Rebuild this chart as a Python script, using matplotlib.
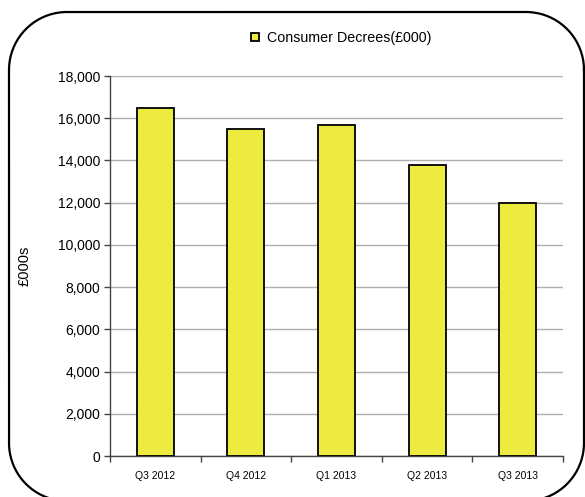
import matplotlib
matplotlib.use("Agg")
import matplotlib.pyplot as plt
from matplotlib.ticker import FuncFormatter, FixedLocator
import numpy as np

plt.rcParams['font.family'] = ['Liberation Sans', 'DejaVu Sans']

quarters = ['Q3 2012', 'Q4 2012', 'Q1 2013', 'Q2 2013', 'Q3 2013']
decrees = [16500, 15500, 15700, 13800, 12000]
series_name = 'Consumer Decrees(£000)'

W, H = 585, 497
fig = plt.figure(figsize=(W/100, H/100), dpi=100)

# rounded frame round the whole chart, in pixel units (runs off the bottom edge)
bg = fig.add_axes([0, 0, 1, 1])
bg.set_xlim(0, W)
bg.set_ylim(0, H)
bg.axis('off')
x0, x1, y0, y1, r = 9, 584, -4, 485, 58
corners = [(x1 - r, y1 - r, 0), (x0 + r, y1 - r, 90),
           (x0 + r, y0 + r, 180), (x1 - r, y0 + r, 270)]
fx, fy = [], []
for cx, cy, a0 in corners:
    a = np.radians(np.linspace(a0, a0 + 90, 40))
    fx.extend(cx + r*np.cos(a))
    fy.extend(cy + r*np.sin(a))
fx.append(fx[0])
fy.append(fy[0])
bg.plot(fx, fy, color='black', linewidth=1.6, clip_on=False,
        solid_joinstyle='round')

ax = fig.add_axes([110/W, 41/H, 453/W, 380/H])
x = np.arange(len(decrees))
ax.bar(x, decrees, width=0.41, color='#EDEA40', edgecolor='black',
       linewidth=1.3, label=series_name, zorder=3)

ax.set_xlim(-0.5, len(decrees) - 0.5)
ax.set_ylim(0, 18000)
ax.set_yticks(range(0, 18001, 2000))
ax.yaxis.set_major_formatter(FuncFormatter(lambda v, p: f'{int(v):,}'))
ax.yaxis.grid(True, color='#b0b0b0', linewidth=1, zorder=0)

# category labels centred, tick marks between categories
ax.xaxis.set_major_locator(FixedLocator(np.arange(-0.5, len(decrees), 1)))
ax.xaxis.set_major_formatter(FuncFormatter(lambda v, p: ''))
ax.xaxis.set_minor_locator(FixedLocator(x))
ax.set_xticklabels(quarters, minor=True)
ax.tick_params(axis='x', which='minor', length=0, pad=11, labelsize=7.5)
ax.tick_params(axis='x', which='major', length=4, width=1, color='#444444')
ax.tick_params(axis='y', length=4, width=1, color='#444444', labelsize=10,
               pad=3)

for s in ['top', 'right']:
    ax.spines[s].set_visible(False)
for s in ['left', 'bottom']:
    ax.spines[s].set_color('#444444')
    ax.spines[s].set_linewidth(1)

ax.set_ylabel('£000s', fontsize=10.5)
ax.yaxis.set_label_coords((32 - 110)/453, 0.5)

ax.legend(loc='center left', bbox_to_anchor=(251/W, 1 - 38/H),
          bbox_transform=fig.transFigure, frameon=False, fontsize=10.3,
          handlelength=0.55, handleheight=0.55, handletextpad=0.55,
          borderpad=0, borderaxespad=0)

fig.savefig('out.png', dpi=100)
